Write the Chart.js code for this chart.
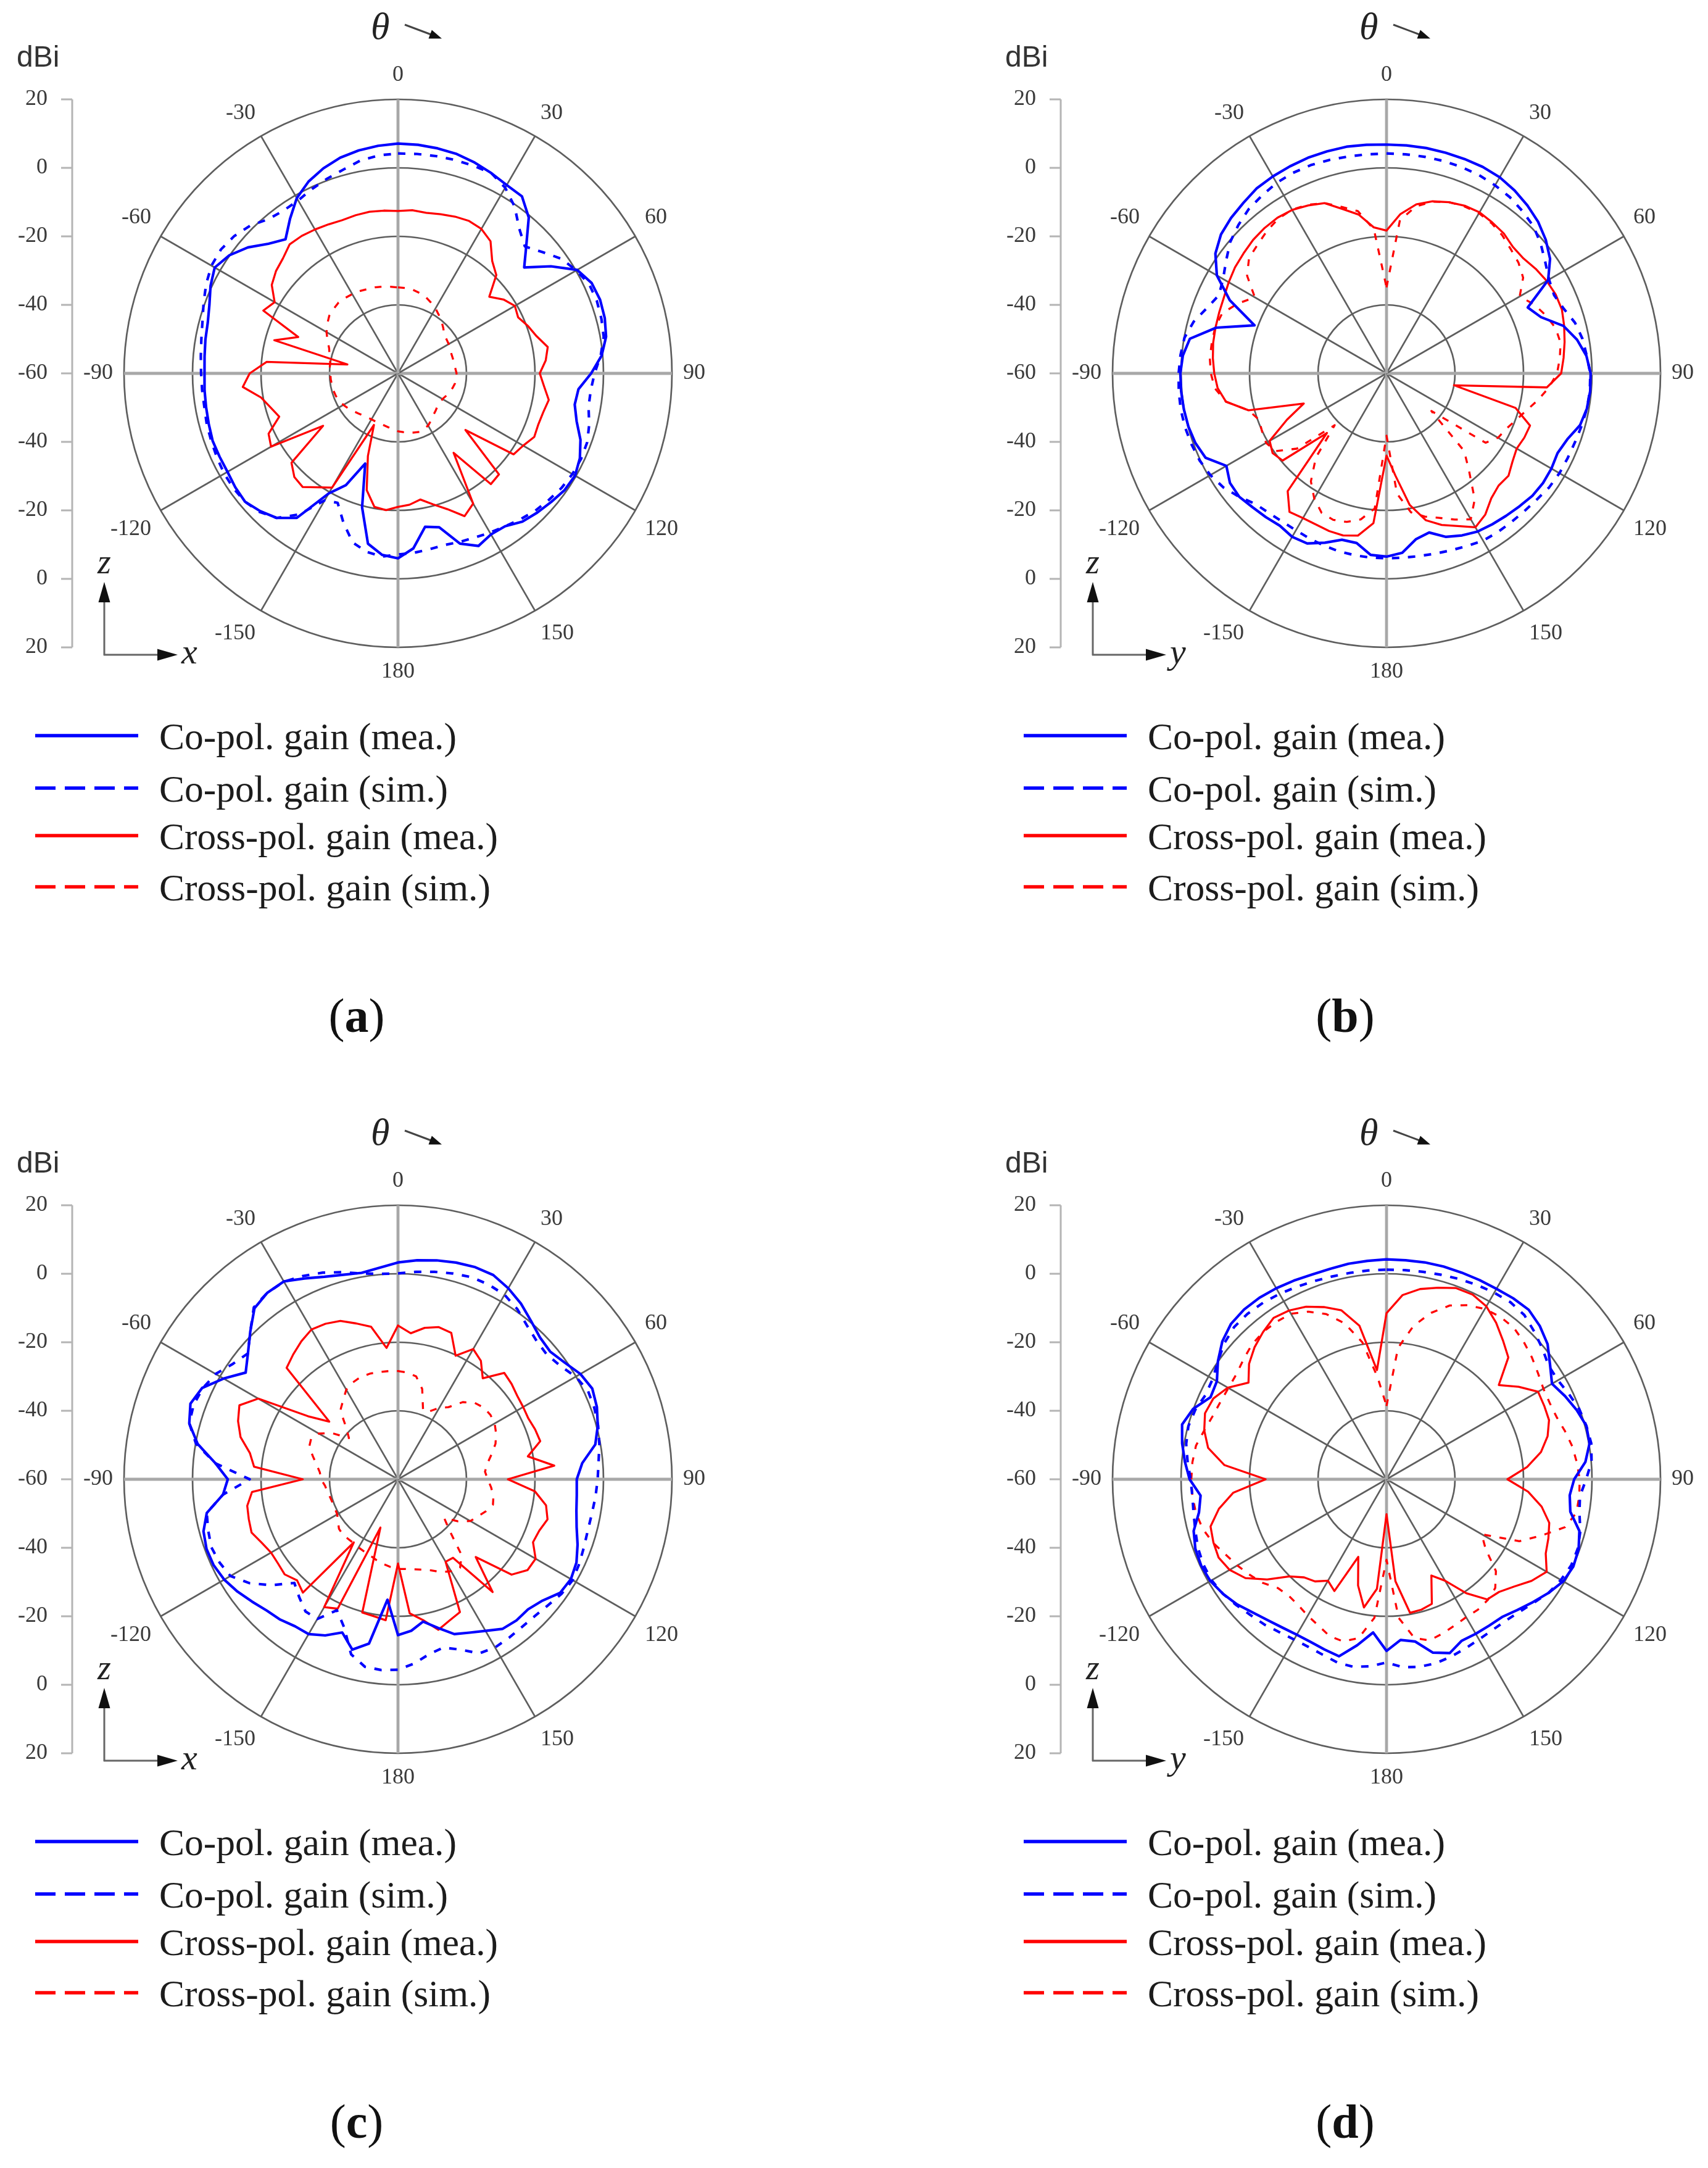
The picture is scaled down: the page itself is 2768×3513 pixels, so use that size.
<!DOCTYPE html>
<html>
<head>
<meta charset="utf-8">
<script src="https://cdn.jsdelivr.net/npm/chart.js@4.4.1/dist/chart.umd.min.js"></script>
<style>
html,body{margin:0;padding:0;background:#fff;}
#page{position:relative;width:2768px;height:3513px;overflow:hidden;background:#fff;}
#page canvas{position:absolute;}
#overlay{position:absolute;left:0;top:0;pointer-events:none;}
</style>
</head>
<body>
<div id="page"></div>
<script>
// ---- categories: theta (deg), clockwise from top ----
const thetaLabels = [0,5,10,15,20,25,30,35,40,45,50,55,60,65,70,75,80,85,90,95,100,105,110,115,120,125,130,135,140,145,150,155,160,165,170,175,180,-175,-170,-165,-160,-155,-150,-145,-140,-135,-130,-125,-120,-115,-110,-105,-100,-95,-90,-85,-80,-75,-70,-65,-60,-55,-50,-45,-40,-35,-30,-25,-20,-15,-10,-5];
const dbTicks = [-60,-40,-20,0,20];
const legendLabels = ['Co-pol. gain (mea.)','Co-pol. gain (sim.)','Cross-pol. gain (mea.)','Cross-pol. gain (sim.)'];
const panelLetters = ['a','b','c','d'];
const hAxisLetters = ['x','y','x','y'];

// ---- panel (a) ----
const aCoMea = [7.1,7.0,6.7,6.3,5.5,4.5, 3.5,3.1,-0.6,-7.0,-11.9,-5.5, 0.4,2.4,2.8,2.5,1.7,-0.3, -3.6,-7.1,-7.6,-6.0,-3.3,-1.4, -0.3,-0.6,-1.6,-2.5,-3.5,-5.5, -5.7,-4.4,-7.1,-13.5,-14.5,-8.7, -6.0,-6.8,-9.5,-19.5,-32.0,-24.0, -19.5,-8.5,-4.9,-3.1,-1.7,-2.0, -2.5,-2.5,-2.4,-2.8,-3.1,-3.3, -3.5,-3.3,-2.9,-2.5,-1.4,0.4, 1.8,0.1,-2.8,-6.5,-8.9,-5.0, -0.9,1.8,3.7,5.2,6.1,6.7];
const aCoSim = [4.2,4.3,4.4,4.5,4.5,4.5, 2.6,-0.6,-4.9,-7.6,-4.9,-1.7, 0.1,1.6,1.8,1.5,1.0,-0.6, -2.6,-3.5,-3.5,-2.2,-1.2,-1.0, -1.2,-1.7,-2.5,-3.3,-4.4,-5.5, -6.3,-7.1,-7.6,-8.1,-7.8,-7.4, -7.1,-6.3,-7.1,-8.9,-13.5,-18.3, -17.2,-9.7,-4.9,-2.8,-1.7,-1.4, -1.4,-1.7,-2.0,-2.2,-2.6,-2.6, -2.5,-2.2,-1.7,-0.9,0.4,1.8, 2.9,3.1,2.4,1.0,-1.2,-1.9, -1.7,-0.6,0.5,1.6,3.1,3.9];
const aXMea = [-12.6,-12.2,-12.4,-11.9,-11.3,-10.9, -11.3,-12.9,-17.2,-19.4,-25.2,-22.4, -20.6,-21.3,-19.6,-18.1,-15.6,-16.7, -18.6,-17.2,-15.3,-16.1,-16.4,-16.1, -17.8,-18.8,-34.3,-18.3,-17.8,-31.7, -16.1,-14.0,-17.8,-20.4,-22.6,-21.5, -21.0,-19.9,-20.4,-24.7,-34.3,-43.4, -21.5,-19.4,-16.7,-17.2,-19.4,-33.3, -17.2,-18.3,-23.1,-21.5,-19.4,-14.5, -16.7,-21.5,-45.0,-22.6,-29.0,-16.6, -18.4,-15.0,-13.5,-12.5,-10.8,-11.0, -11.5,-12.0,-12.4,-12.2,-12.1,-12.3];
const aXSim = [-34.9,-35.0,-35.2,-35.7,-36.3,-37.2, -38.1,-39.2,-40.2,-41.3,-42.4,-42.7, -42.9,-43.2,-43.4,-43.4,-43.4,-43.2, -42.9,-43.0,-43.1,-43.5,-44.0,-44.5, -45.0,-45.0,-45.0,-44.5,-44.0,-43.2, -42.4,-42.1,-41.8,-42.1,-42.4,-42.8, -43.1,-43.5,-44.0,-44.3,-44.5,-44.5, -44.5,-44.3,-44.0,-43.5,-42.9,-42.2, -41.6,-41.1,-40.7,-40.5,-40.4,-40.3, -40.2,-40.0,-39.9,-39.3,-38.6,-37.3, -35.9,-34.8,-33.8,-33.4,-33.0,-33.1, -33.3,-33.5,-33.8,-34.0,-34.3,-34.6];

// ---- panel (b) ----
const bCoMea = [6.8,6.8,6.8,6.7,6.6,6.5, 6.1,5.2,4.0,2.6,0.7,-1.7, -5.5,-14.5,-12.0,-6.5,-3.5,-1.4, -0.4,-0.3,-0.6,-1.5,-3.8,-4.9, -4.4,-4.2,-4.4,-5.1,-5.7,-6.2, -6.7,-7.8,-9.2,-11.9,-10.8,-7.4, -6.5,-6.8,-9.7,-9.7,-7.4,-5.2, -4.9,-5.7,-5.2,-4.7,-3.9,-4.2, -6.0,-1.7,-0.6,-0.1,0.1,0.2, 0.2,-0.3,-1.7,-8.5,-19.0,-9.5, -2.8,1.0,3.1,4.2,5.0,6.0, 6.4,6.7,7.0,7.1,7.2,7.0];
const bCoSim = [4.2,4.2,4.2,4.2,4.1,3.9, 3.4,2.8,1.8,0.7,-1.2,-3.4, -5.2,-6.0,-4.9,-3.0,-1.9,-1.3, -0.5,-0.4,-0.6,-1.0,-1.4,-1.6, -1.7,-2.0,-2.7,-3.1,-3.3,-3.4, -3.6,-4.4,-5.0,-5.5,-5.8,-6.0, -6.0,-6.0,-6.1,-6.2,-6.5,-6.8, -7.1,-7.1,-6.7,-6.0,-3.9,-1.9, -0.6,0.2,0.6,0.9,1.0,0.9, 0.7,0.4,-0.1,-1.7,-4.2,-6.0, -4.9,-2.8,-0.4,1.2,2.6,3.4, 4.2,4.6,4.7,4.5,4.3,4.2];
const bXMea = [-18.3,-13.3,-9.9,-8.0,-6.8,-6.0, -5.7,-6.2,-6.7,-7.8,-7.8,-6.8, -6.0,-5.5,-5.5,-6.3,-7.2,-8.1, -9.0,-13.0,-40.0,-21.0,-15.4,-15.6, -16.1,-15.1,-13.5,-13.7,-12.4,-9.7, -8.1,-10.8,-12.9,-15.6,-21.0,-30.0, -36.0,-16.1,-11.9,-11.0,-11.0,-11.3, -11.2,-10.6,-15.1,-35.4,-20.4,-19.4, -20.6,-27.9,-34.3,-18.3,-12.4,-10.5, -9.7,-9.1,-8.6,-8.3,-8.0,-7.6, -6.8,-6.0,-5.5,-4.9,-4.6,-4.5, -4.9,-5.9,-7.1,-10.3,-12.9,-17.2];
const bXSim = [-34.9,-15.1,-10.5,-8.1,-6.8,-6.2, -6.0,-6.5,-7.4,-8.7,-9.7,-11.3, -15.1,-12.4,-10.5,-8.9,-8.4,-9.2, -10.2,-12.4,-15.1,-17.8,-19.9,-21.5, -22.4,-24.7,-42.9,-27.9,-22.4,-15.1, -10.8,-12.9,-15.1,-16.7,-18.8,-24.7, -41.8,-20.4,-16.7,-15.1,-14.5,-15.1, -17.8,-21.5,-27.9,-38.6,-25.8,-20.4, -19.4,-19.9,-20.4,-18.3,-12.4,-9.7, -8.7,-8.2,-8.2,-8.2,-8.9,-11.9, -15.6,-10.3,-7.6,-6.8,-5.7,-4.9, -4.8,-5.7,-7.1,-9.7,-11.9,-17.8];

// ---- panel (c) ----
const cCoMea = [3.3,4.2,4.9,5.5,5.9,5.8, 4.4,2.6,0.4,-1.4,-2.0,-0.6, 1.5,2.6,1.8,0.4,-1.5,-6.0, -7.8,-7.6,-7.1,-6.0,-4.2,-2.5, -1.7,-2.2,-4.9,-6.3,-6.2,-6.7, -8.9,-10.6,-11.9,-15.1,-17.8,-15.6, -14.5,-24.7,-11.3,-8.5,-12.4,-9.7, -7.8,-7.6,-6.5,-5.8,-4.4,-2.8, -1.4,-0.6,-0.5,-1.2,-3.3,-8.7, -10.3,-6.5,-0.6,3.1,4.5,3.1, -1.2,-5.7,-2.8,1.0,5.2,6.5, 6.7,4.7,2.9,1.8,1.2,2.0];
const cCoSim = [0.1,0.8,1.5,2.2,2.8,2.7, 2.2,0.7,-1.4,-2.8,-3.3,-2.2, -0.1,1.2,1.0,0.5,-0.3,-1.2, -1.7,-2.1,-2.5,-2.6,-2.2,-1.6, -1.1,-1.7,-2.8,-3.5,-3.7,-3.5, -3.3,-3.9,-7.1,-9.1,-8.1,-6.0, -4.4,-4.1,-4.4,-7.1,-14.0,-17.8, -12.9,-12.9,-15.1,-17.2,-11.9,-7.1, -3.5,-2.5,-2.0,-2.6,-3.3,-8.7, -16.7,-6.5,-0.1,3.1,3.5,2.9, 1.5,-1.2,-2.8,1.0,5.5,6.5, 6.6,5.5,4.2,2.6,1.0,0.2];
const cXMea = [-15.1,-17.2,-15.1,-14.0,-14.5,-20.2, -16.1,-17.8,-21.5,-16.1,-16.7,-17.5, -17.8,-18.0,-17.4,-17.0,-21.5,-14.2, -27.9,-19.9,-16.1,-14.8,-16.1,-16.5, -13.6,-13.8,-16.7,-27.9,-17.0,-32.0, -32.2,-17.2,-16.1,-14.5,-18.3,-20.7, -35.4,-18.7,-19.4,-19.7,-45.0,-18.3, -16.9,-37.5,-16.8,-18.3,-16.8,-17.2, -17.2,-16.1,-14.5,-14.9,-15.3,-17.2, -32.2,-17.8,-16.1,-12.4,-10.3,-8.9, -12.9,-27.9,-33.8,-14.0,-12.4,-10.8, -9.5,-9.9,-10.8,-12.9,-14.8,-21.5];
const cXSim = [-28.4,-28.7,-29.5,-32.7,-38.6,-38.1, -35.9,-34.3,-30.6,-28.4,-27.4,-27.1, -27.4,-28.4,-29.7,-31.7,-33.5,-34.5, -33.8,-32.7,-31.7,-31.3,-32.7,-34.3, -35.6,-38.6,-42.4,-38.6,-31.1,-28.4, -29.0,-30.1,-31.7,-32.7,-33.3,-33.7, -33.8,-34.3,-34.9,-35.6,-36.3,-36.7, -37.0,-37.3,-37.3,-37.2,-37.5,-38.6, -39.5,-39.7,-39.7,-39.5,-39.1,-38.6, -37.5,-37.1,-35.9,-34.3,-32.4,-32.0, -33.3,-36.5,-41.3,-38.6,-33.8,-32.0, -29.8,-28.8,-28.2,-28.1,-28.2,-28.3];

// ---- panel (d) ----
const dCoMea = [4.2,4.2,4.3,4.3,4.2,4.2, 4.2,4.5,4.6,3.3,1.4,-1.7, -4.2,-2.5,-0.9,0.4,0.2,-1.7, -5.2,-6.3,-5.5,-1.7,-0.3,0.2, -0.4,-2.2,-4.2,-6.0,-7.5,-7.8, -7.9,-8.0,-6.0,-7.6,-11.9,-12.9, -9.9,-15.1,-10.8,-6.5,-7.1,-7.6, -7.6,-7.1,-6.2,-4.9,-3.1,-1.7, -0.6,-0.3,-0.6,-1.7,-4.4,-5.5, -2.5,-0.9,0.6,1.8,0.1,-3.3, -2.8,0.1,2.6,4.2,4.7,4.7, 4.4,4.0,3.6,3.6,3.9,4.0];
const dCoSim = [1.2,1.3,1.5,1.8,2.2,2.6, 2.9,3.1,2.6,1.0,-0.6,-2.2, -2.2,-1.2,-0.1,0.4,0.7,0.1, -1.7,-3.3,-2.8,-1.4,-0.6,-0.5, -1.2,-2.2,-3.9,-5.2,-6.0,-6.2, -6.0,-5.5,-4.9,-4.4,-4.4,-4.9, -6.5,-5.2,-4.4,-4.6,-5.5,-6.0, -6.0,-5.5,-4.6,-3.9,-2.8,-1.7, -1.0,-1.0,-1.4,-2.2,-2.8,-3.1, -2.8,-1.7,-0.6,-0.1,-0.6,-1.7, -1.4,0.1,1.8,2.9,3.1,2.9, 2.5,2.0,1.6,1.3,1.2,1.2];
const dXMea = [-11.5,-6.0,-3.6,-2.1,-0.6,-0.5, -1.7,-4.2,-7.1,-9.7,-17.2,-12.9, -8.9,-9.2,-9.5,-11.3,-14.2,-18.8, -24.7,-18.5,-14.0,-10.8,-9.7,-8.7, -6.0,-8.3,-11.3,-13.5,-14.2,-19.4, -25.8,-29.0,-21.3,-20.6,-20.4,-30.1, -49.8,-27.9,-22.0,-27.9,-35.9,-24.0, -25.8,-23.6,-22.6,-19.9,-14.5,-9.7, -7.1,-5.9,-6.2,-6.8,-10.3,-15.1, -24.7,-12.5,-7.1,-4.9,-3.6,-4.2, -6.5,-10.8,-7.6,-5.5,-3.9,-2.5, -3.1,-4.4,-6.5,-8.9,-14.5,-28.0];
const dXSim = [-38.6,-21.5,-14.5,-9.7,-6.0,-3.9, -2.6,-2.1,-2.2,-3.3,-4.6,-6.0, -7.1,-7.4,-7.1,-6.0,-4.9,-4.2, -3.6,-3.5,-3.7,-6.0,-11.9,-17.2, -27.9,-24.7,-18.3,-15.1,-14.0,-13.5, -13.5,-12.9,-12.1,-11.3,-12.9,-19.4, -36.5,-19.4,-12.9,-11.0,-11.3,-12.9, -14.0,-15.1,-15.6,-15.1,-12.9,-11.3, -9.7,-8.1,-6.0,-4.4,-3.5,-3.1, -3.0,-3.1,-3.5,-4.9,-6.0,-6.5, -6.7,-6.5,-5.5,-4.4,-3.9,-3.9, -4.2,-6.0,-8.7,-12.9,-19.4,-30.1];

// ---- styling / layout ----
const SERIF = '"Liberation Serif", "Times New Roman", Times, serif';
const SERIF_SVG = 'Liberation Serif, Times New Roman, serif';
const SANS_SVG = 'Liberation Sans, Arial, sans-serif';
const BLUE = '#0000ff', RED = '#ff0000';
const R = 444;              // outer ring radius in px
const CX = 645, CY = 605;   // polar centre inside a panel block
const seriesStyle = [
  {color: BLUE, width: 4.2, dash: []},
  {color: BLUE, width: 4.2, dash: [12, 14]},
  {color: RED, width: 3.3, dash: []},
  {color: RED, width: 3.3, dash: [11, 14]}
];
const legendDash = ['', '33 15', '', '33 15'];
const legendRowY = [1192, 1277, 1354, 1437];
const legendTextLen = [482, 468, 549, 537];

const panels = [
  {ox: 0,    oy: 0,    series: [aCoMea, aCoSim, aXMea, aXSim]},
  {ox: 1602, oy: 0,    series: [bCoMea, bCoSim, bXMea, bXSim]},
  {ox: 0,    oy: 1792, series: [cCoMea, cCoSim, cXMea, cXSim]},
  {ox: 1602, oy: 1792, series: [dCoMea, dCoSim, dXMea, dXSim]}
];

// left dBi axis drawn from the radial scale itself
const dbAxisPlugin = {
  id: 'dbAxis',
  afterDraw(chart) {
    const s = chart.scales.r, ctx = chart.ctx;
    const x = s.xCenter - 528;
    const dMax = s.getDistanceFromCenterForValue(s.max);
    ctx.save();
    ctx.strokeStyle = '#b4b4b4';
    ctx.lineWidth = 3;
    ctx.beginPath(); ctx.moveTo(x, s.yCenter - dMax); ctx.lineTo(x, s.yCenter + dMax); ctx.stroke();
    ctx.font = '36px ' + SERIF;
    ctx.fillStyle = '#3a3a3a';
    ctx.textAlign = 'right';
    ctx.textBaseline = 'middle';
    for (const v of dbTicks) {
      const d = s.getDistanceFromCenterForValue(v);
      const ys = d < 0.5 ? [s.yCenter] : [s.yCenter - d, s.yCenter + d];
      for (const y of ys) {
        ctx.beginPath(); ctx.moveTo(x - 18, y); ctx.lineTo(x, y); ctx.stroke();
        ctx.fillText(String(v), x - 40, y);
      }
    }
    ctx.restore();
  }
};

function fitRadar(chart, cx, cy, r) {
  const pad = {left: 20, right: 20, top: 20, bottom: 20};
  for (let k = 0; k < 8; k++) {
    chart.options.layout.padding = {left: pad.left, right: pad.right, top: pad.top, bottom: pad.bottom};
    chart.update('none');
    const s = chart.scales.r;
    const dr = s.drawingArea - r, ex = s.xCenter - cx, ey = s.yCenter - cy;
    if (Math.abs(dr) < 0.5 && Math.abs(ex) < 1 && Math.abs(ey) < 1) break;
    pad.top += dr - ey; pad.bottom += dr + ey;
    pad.left += dr - ex; pad.right += dr + ex;
  }
}

const page = document.getElementById('page');
const W = 1290, H = 1210;

panels.forEach((p, pi) => {
  const cv = document.createElement('canvas');
  cv.width = W; cv.height = H;
  cv.style.left = p.ox + 'px'; cv.style.top = p.oy + 'px';
  page.appendChild(cv);
  const chart = new Chart(cv, {
    type: 'radar',
    data: {
      labels: thetaLabels,
      datasets: p.series.map((d, i) => ({
        label: legendLabels[i],
        data: d,
        borderColor: seriesStyle[i].color,
        backgroundColor: 'rgba(0,0,0,0)',
        borderWidth: seriesStyle[i].width,
        borderDash: seriesStyle[i].dash,
        borderJoinStyle: 'round',
        fill: false,
        pointRadius: 0,
        pointHoverRadius: 0,
        tension: 0
      }))
    },
    options: {
      responsive: false,
      animation: false,
      devicePixelRatio: 1,
      events: [],
      layout: {padding: 20},
      plugins: {legend: {display: false}, tooltip: {enabled: false}},
      scales: {
        r: {
          min: -60, max: 20,
          startAngle: 0,
          ticks: {display: false, stepSize: 20},
          grid: {circular: true, color: '#5e5e5e', lineWidth: 2.7},
          angleLines: {
            display: true,
            color: (c) => (c.index % 6 !== 0 ? 'rgba(0,0,0,0)' : (c.index % 18 === 0 ? '#a8a8a8' : '#5e5e5e')),
            lineWidth: (c) => (c.index % 6 !== 0 ? 0 : (c.index % 18 === 0 ? 4.8 : 2.6))
          },
          pointLabels: {
            display: true,
            padding: 18,
            color: '#3a3a3a',
            font: {family: SERIF, size: 36},
            callback: (v) => (Number(v) % 30 === 0 ? String(v) : '')
          }
        }
      }
    },
    plugins: [dbAxisPlugin]
  });
  fitRadar(chart, CX, CY, R);
  const s = chart.scales.r;
  cv.style.left = (p.ox + CX - s.xCenter) + 'px';
  cv.style.top = (p.oy + CY - s.yCenter) + 'px';
});

// ---- static annotations (real text in SVG) ----
function panelSvg(p, pi) {
  const out = [];
  out.push(`<g transform="translate(${p.ox},${p.oy})">`);
  out.push(`<text x="27" y="108" font-family="${SANS_SVG}" font-size="48" fill="#333">dBi</text>`);
  out.push(`<text x="601" y="63" font-family="${SERIF_SVG}" font-style="italic" font-size="62" fill="#222">θ</text>`);
  out.push(`<line x1="656" y1="40" x2="700" y2="56.5" stroke="#444" stroke-width="3"/>`);
  out.push(`<polygon points="716,62.5 694.5,62.5 699.8,48.5" fill="#111"/>`);
  // z / x (y) coordinate glyph
  out.push(`<line x1="169" y1="1062" x2="169" y2="972" stroke="#666" stroke-width="3"/>`);
  out.push(`<polygon points="169,943 159.5,976 178.5,976" fill="#111"/>`);
  out.push(`<line x1="168" y1="1061" x2="258" y2="1061" stroke="#666" stroke-width="3"/>`);
  out.push(`<polygon points="288,1061 255,1051.5 255,1070.5" fill="#111"/>`);
  out.push(`<text x="158" y="929" font-family="${SERIF_SVG}" font-style="italic" font-size="56" fill="#222">z</text>`);
  out.push(`<text x="294" y="1075" font-family="${SERIF_SVG}" font-style="italic" font-size="58" fill="#222">${hAxisLetters[pi]}</text>`);
  // legend
  for (let i = 0; i < 4; i++) {
    const y = legendRowY[i];
    const dash = legendDash[i] ? ` stroke-dasharray="${legendDash[i]}"` : '';
    out.push(`<line x1="57" y1="${y}" x2="224" y2="${y}" stroke="${seriesStyle[i].color}" stroke-width="5.5"${dash}/>`);
    out.push(`<text x="258" y="${y + 22}" font-family="${SERIF_SVG}" font-size="62" fill="#1c1c1c" textLength="${legendTextLen[i]}" lengthAdjust="spacingAndGlyphs">${legendLabels[i]}</text>`);
  }
  // caption
  out.push(`<text x="578" y="1672" text-anchor="middle" font-family="${SERIF_SVG}" font-size="78" fill="#111">(<tspan font-weight="bold">${panelLetters[pi]}</tspan>)</text>`);
  out.push('</g>');
  return out.join('');
}
page.insertAdjacentHTML('beforeend',
  `<svg id="overlay" xmlns="http://www.w3.org/2000/svg" width="2768" height="3513" viewBox="0 0 2768 3513">${panels.map(panelSvg).join('')}</svg>`);
</script>
</body>
</html>
